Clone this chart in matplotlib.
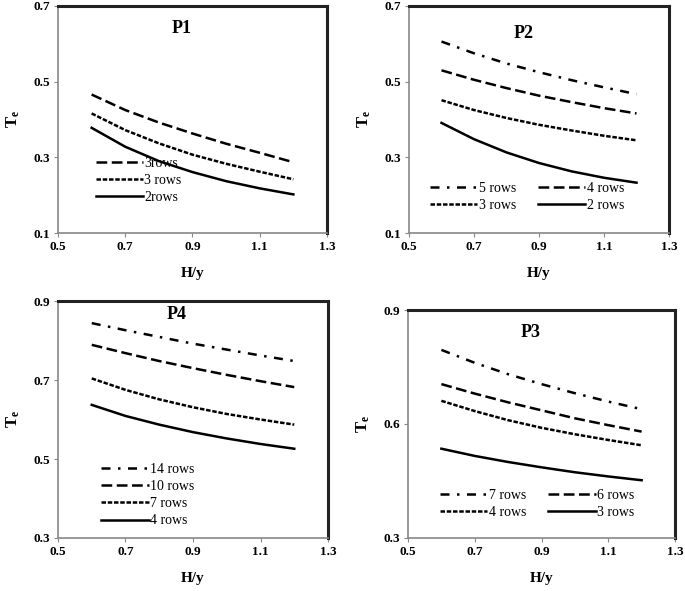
import matplotlib
matplotlib.use("Agg")
import matplotlib.pyplot as plt

plt.rcParams["font.family"] = ["Liberation Serif", "DejaVu Serif"]
plt.rcParams["mathtext.fontset"] = "custom"
plt.rcParams["mathtext.rm"] = "Liberation Serif"
plt.rcParams["mathtext.bf"] = "Liberation Serif:bold"

hy = [0.6, 0.7, 0.8, 0.9, 1.0, 1.1, 1.2]

# P1
p1_labels = ["3rows", "3 rows", "2rows"]
p1_values = [
    [0.466, 0.425, 0.392, 0.363, 0.336, 0.312, 0.287],
    [0.416, 0.372, 0.337, 0.307, 0.283, 0.262, 0.242],
    [0.378, 0.328, 0.290, 0.261, 0.237, 0.218, 0.202],
]
# P2
p2_labels = ["5 rows", "4 rows", "3 rows", "2 rows"]
p2_values = [
    [0.606, 0.575, 0.548, 0.525, 0.504, 0.485, 0.467],
    [0.530, 0.505, 0.483, 0.463, 0.446, 0.430, 0.416],
    [0.451, 0.425, 0.404, 0.386, 0.371, 0.357, 0.345],
    [0.391, 0.348, 0.313, 0.285, 0.263, 0.246, 0.233],
]
# P4
p4_labels = ["14 rows", "10 rows", "7 rows", "4 rows"]
p4_values = [
    [0.844, 0.826, 0.809, 0.792, 0.777, 0.762, 0.748],
    [0.789, 0.768, 0.748, 0.730, 0.713, 0.697, 0.682],
    [0.704, 0.675, 0.651, 0.631, 0.614, 0.600, 0.587],
    [0.637, 0.609, 0.587, 0.568, 0.552, 0.538, 0.526],
]
# P3
p3_labels = ["7 rows", "6 rows", "4 rows", "3 rows"]
p3_values = [
    [0.795, 0.761, 0.731, 0.705, 0.681, 0.659, 0.639],
    [0.705, 0.680, 0.657, 0.636, 0.615, 0.597, 0.580],
    [0.661, 0.634, 0.610, 0.590, 0.573, 0.558, 0.544],
    [0.535, 0.516, 0.500, 0.486, 0.473, 0.462, 0.452],
]

xticks = [0.5, 0.7, 0.9, 1.1, 1.3]

DASHDOT = (0, (3.6, 3, 1, 3))
LONGDASH = (0, (4.3, 1.8))
SHORTDASH = (0, (1.8, 0.7))
SOLID = "-"


def panel(ax, title, labels, values, styles, ylim, yticks, title_pos, ncol, leg_anchor):
    lines = []
    for lab, vals, ls in zip(labels, values, styles):
        ln, = ax.plot(hy, vals, color="black", linestyle=ls, linewidth=1.8, label=lab)
        lines.append(ln)
    ax.set_xlim(0.5, 1.3)
    ax.set_ylim(*ylim)
    ax.set_xticks(xticks)
    ax.set_xticklabels([f"{t:.1f}" for t in xticks])
    ax.set_yticks(yticks)
    ax.set_yticklabels([f"{t:.1f}" for t in yticks])
    ax.tick_params(direction="out", length=3, width=0.8, color="#888888", labelsize=9.5, pad=3)
    for t in ax.get_xticklabels() + ax.get_yticklabels():
        t.set_fontweight("bold")
    for s in ["top", "right"]:
        ax.spines[s].set_linewidth(2.2)
        ax.spines[s].set_color("#222222")
    for s in ["left", "bottom"]:
        ax.spines[s].set_linewidth(1.2)
        ax.spines[s].set_color("#888888")
    ax.set_xlabel("H/y", fontsize=11, fontweight="bold", labelpad=10)
    ax.set_ylabel(r"$\mathbf{T_e}$", fontsize=12, labelpad=8)
    ax.text(title_pos[0], title_pos[1], title, transform=ax.transAxes,
            fontsize=13, fontweight="bold", ha="center", va="center")
    if ncol == 2:
        # row-wise order: first row = lines 0,1 ; second row = lines 2,3
        lines = [lines[0], lines[2], lines[1], lines[3]]
    ax.legend(handles=lines, loc="upper left", bbox_to_anchor=leg_anchor, ncol=ncol,
              frameon=False, fontsize=10, handlelength=3.4, handletextpad=0.1,
              labelspacing=0.3, columnspacing=1.6, borderaxespad=0)


fig = plt.figure(figsize=(6.85, 5.91), dpi=100)
W, H = 685.0, 591.0


def add(l, t, r, b):
    return fig.add_axes([l / W, 1 - b / H, (r - l) / W, (b - t) / H])


ax1 = add(58, 6, 327, 233)
ax2 = add(409, 6, 669, 233)
ax4 = add(58, 301, 328, 538)
ax3 = add(408, 310, 675, 538)

panel(ax1, "P1", p1_labels, p1_values, [LONGDASH, SHORTDASH, SOLID],
      (0.1, 0.7), [0.1, 0.3, 0.5, 0.7], (0.46, 0.9), 1, (0.12, 0.36))
panel(ax2, "P2", p2_labels, p2_values, [DASHDOT, LONGDASH, SHORTDASH, SOLID],
      (0.1, 0.7), [0.1, 0.3, 0.5, 0.7], (0.44, 0.88), 2, (0.06, 0.25))
panel(ax4, "P4", p4_labels, p4_values, [DASHDOT, LONGDASH, SHORTDASH, SOLID],
      (0.3, 0.9), [0.3, 0.5, 0.7, 0.9], (0.44, 0.945), 1, (0.14, 0.34))
panel(ax3, "P3", p3_labels, p3_values, [DASHDOT, LONGDASH, SHORTDASH, SOLID],
      (0.3, 0.9), [0.3, 0.6, 0.9], (0.46, 0.9), 2, (0.1, 0.24))

fig.savefig("out.png", dpi=100)
